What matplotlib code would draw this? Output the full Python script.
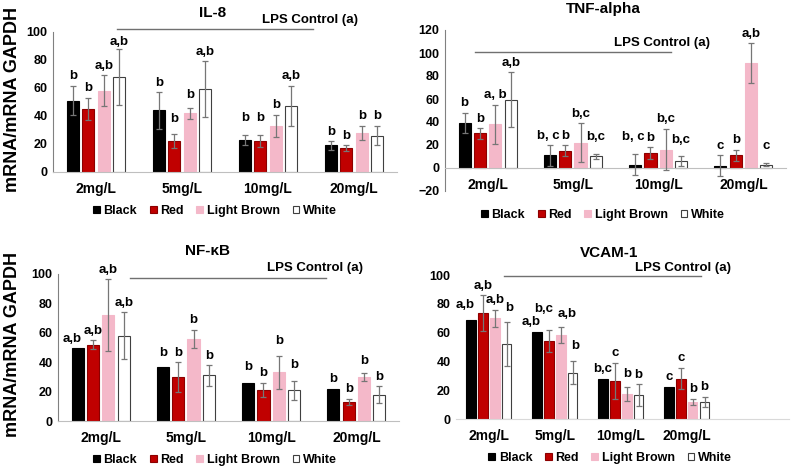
import matplotlib
matplotlib.use("Agg")
import matplotlib.pyplot as plt
from matplotlib.patches import Patch
import numpy as np

plt.rcParams["font.family"] = ["Liberation Sans", "DejaVu Sans"]
plt.rcParams["font.weight"] = "bold"

DOSES = ["2mg/L", "5mg/L", "10mg/L", "20mg/L"]
SERIES = ["Black", "Red", "Light Brown", "White"]

# rows: Black, Red, Light Brown, White; columns: doses
IL8_MEAN = [[51, 44, 23, 19], [45, 22, 22, 17], [58, 42, 33, 28], [68, 59, 47, 26]]
IL8_ERR = [[10.5, 13, 3.5, 3], [8, 5, 4.5, 2], [11, 4, 8, 5], [20, 20, 14.5, 7]]
IL8_SIG = [["b", "b", "b", "b"], ["b", "b", "b", "b"],
           ["a,b", "b", "b", "b"], ["a,b", "a,b", "a,b", "b"]]

TNF_MEAN = [[39, 11, 3, 2], [30, 15, 13, 11], [38, 22, 16, 91], [59.5, 10, 6, 3]]
TNF_ERR = [[9, 9, 9, 9], [4.5, 5, 5, 5], [17, 17, 18, 17.5], [24, 2, 4, 1.5]]
TNF_SIG = [["b", "b, c", "b, c", "c"], ["b", "b", "b", "b"],
           ["a, b", "b,c", "b,c", "a,b"], ["a,b", "b,c", "b,c", "c"]]

NFKB_MEAN = [[50, 37, 26, 22], [52, 30, 21, 13], [72, 56, 33, 30], [58, 31, 21, 18]]
NFKB_ERR = [[0, 0, 0, 0], [3, 10, 5, 2], [24.5, 6, 11, 2.5], [16, 7, 6.5, 5.5]]
NFKB_SIG = [["a,b", "b", "b", "b"], ["a,b", "b", "b", "b"],
            ["a,b", "b", "b", "b"], ["a,b", "b", "b", "b"]]

VCAM_MEAN = [[69, 60.5, 28, 22.5], [73.5, 54, 26.5, 28], [70, 58.5, 17.5, 12], [52, 32, 16.5, 12]]
VCAM_ERR = [[0, 0, 0, 0], [12.5, 7.5, 12.5, 7.5], [6, 5.5, 5, 2], [15.5, 8, 7.5, 3.5]]
VCAM_SIG = [["a,b", "a,b", "b,c", "c"], ["a,b", "b,c", "c", "c"],
            ["a,b", "a,b", "b", "b"], ["b", "b", "b", "b"]]

LPS_LEVEL = [102, 101, 97, 99]

FACE = ["#000000", "#c00000", "#f4b8c9", "#ffffff"]
EDGE = ["#000000", "#8c0000", "#f4b8c9", "#404040"]

W, H = 792, 472

# label nudges in pixels (series, dose) -> (dx, dy), letters were placed by hand in the original
NUDGE_IL8 = {(3, 0): (0, -3), (1, 1): (0, 6), (2, 1): (0, 3), (0, 2): (0, 7), (1, 2): (0, 7)}
NUDGE_TNF = {(0, 1): (-2, 0), (3, 1): (0, 8), (0, 2): (-2, 8), (3, 2): (0, 7), (3, 3): (0, 7)}
NUDGE_NFKB = {(0, 0): (-5, -1), (0, 1): (0, 4), (0, 2): (0, 6), (2, 2): (0, 6),
              (3, 2): (0, 6), (2, 3): (0, 3)}
NUDGE_VCAM = {(0, 0): (-6, 5), (3, 0): (2, 4), (0, 1): (-6, 0), (1, 1): (-5, 12),
              (2, 1): (6, 3), (3, 1): (2, 6), (2, 2): (0, 3)}

PANELS = [
    dict(title="IL-8", mean=IL8_MEAN, err=IL8_ERR, sig=IL8_SIG, lps=LPS_LEVEL[0],
         nudge=NUDGE_IL8, box=(53, 32, 397, 172), ylim=(0, 100), xlim=(-0.5, 3.5),
         lps_x=(0.24, 2.52), lps_text=(2.49, 108.6), title_x=213, title_y=13,
         legend=(215, 211), ylabel=True),
    dict(title="TNF-alpha", mean=TNF_MEAN, err=TNF_ERR, sig=TNF_SIG, lps=LPS_LEVEL[1],
         nudge=NUDGE_TNF, box=(445, 30, 786, 191), ylim=(-20, 120), xlim=(-0.5, 3.5),
         lps_x=(-0.15, 2.15), lps_text=(2.05, 109), title_x=603, title_y=9,
         legend=(603, 215), ylabel=False),
    dict(title="NF-κB", mean=NFKB_MEAN, err=NFKB_ERR, sig=NFKB_SIG, lps=LPS_LEVEL[2],
         nudge=NUDGE_NFKB, box=(58, 274, 399, 421), ylim=(0, 100), xlim=(-0.5, 3.5),
         lps_x=(0.35, 2.64), lps_text=(2.51, 104), title_x=207, title_y=251,
         legend=(215, 460), ylabel=True),
    dict(title="VCAM-1", mean=VCAM_MEAN, err=VCAM_ERR, sig=VCAM_SIG, lps=LPS_LEVEL[3],
         nudge=NUDGE_VCAM, box=(456, 275, 789, 419), ylim=(0, 100), xlim=(-0.5, 4.55),
         lps_x=(0.23, 3.21), lps_text=(2.95, 105), title_x=609, title_y=253,
         legend=(610, 458), ylabel=False),
]


def draw_panel(fig, p):
    x0, y0, x1, y1 = p["box"]
    ax = fig.add_axes([x0 / W, 1 - y1 / H, (x1 - x0) / W, (y1 - y0) / H])
    x = np.arange(len(DOSES))
    pitch, width = 0.18, 0.143

    for i, name in enumerate(SERIES):
        pos = x + (i - 1.5) * pitch
        mean = np.array(p["mean"][i], dtype=float)
        err = np.array(p["err"][i], dtype=float)
        ax.bar(pos, mean, width, color=FACE[i], edgecolor=EDGE[i], linewidth=0.8, zorder=2)
        has_err = err > 0
        if has_err.any():
            ax.errorbar(pos[has_err], mean[has_err], yerr=err[has_err], fmt="none",
                        ecolor="#767676", elinewidth=0.9, capsize=2, capthick=0.9, zorder=3)
        for j, (xp, m, e, s) in enumerate(zip(pos, mean, err, p["sig"][i])):
            dx, dy = p["nudge"].get((i, j), (0, 0))
            ax.annotate(s, (xp, m + e), xytext=(dx * 0.72, 2.5 + dy * 0.72),
                        textcoords="offset points", ha="center", va="bottom",
                        fontsize=9.5, fontweight="bold", annotation_clip=False, zorder=4)

    ax.set_xlim(*p["xlim"])
    ax.set_ylim(*p["ylim"])
    ax.set_yticks(np.arange(p["ylim"][0], p["ylim"][1] + 1, 20))
    ax.set_xticks(x)
    ax.set_xticklabels(DOSES, fontsize=9.5, fontweight="bold")
    ax.tick_params(axis="both", length=0)
    ax.tick_params(axis="y", labelsize=9, pad=4)
    ax.tick_params(axis="x", pad=7)
    for lab in ax.get_yticklabels():
        lab.set_fontweight("bold")

    for side in ["top", "right"]:
        ax.spines[side].set_visible(False)
    ax.spines["bottom"].set_position(("data", 0))
    ax.spines["bottom"].set_color("#bfbfbf")
    ax.spines["left"].set_color("#808080")
    if p["title"] == "VCAM-1":
        ax.spines["left"].set_visible(False)
        ax.spines["bottom"].set_color("#d9d9d9")

    ax.plot(p["lps_x"], [p["lps"], p["lps"]], color="#707070", linewidth=1, clip_on=False)
    ax.text(p["lps_text"][0], p["lps_text"][1], "LPS Control (a)", ha="center", va="center",
            fontsize=9.5, fontweight="bold")

    fig.text(p["title_x"] / W, 1 - p["title_y"] / H, p["title"], ha="center", va="center",
             fontsize=11, fontweight="bold")

    if p["ylabel"]:
        fig.text(13 / W, 1 - ((y0 + y1) / 2 - 3) / H, "mRNA/mRNA GAPDH", rotation=90,
                 ha="center", va="center", fontsize=13, fontweight="bold")

    handles = [Patch(facecolor=FACE[i], edgecolor=EDGE[i], linewidth=0.8) for i in range(4)]
    lx, ly = p["legend"]
    ax.legend(handles, SERIES, loc="center", bbox_to_anchor=(lx / W, 1 - ly / H),
              bbox_transform=fig.transFigure, ncol=4, frameon=False,
              prop={"size": 9, "weight": "bold"}, handlelength=0.55, handleheight=0.55,
              handletextpad=0.3, columnspacing=1.0)
    return ax


fig = plt.figure(figsize=(W / 100, H / 100), dpi=100)
for p in PANELS:
    draw_panel(fig, p)
fig.savefig("out.png", dpi=100)
